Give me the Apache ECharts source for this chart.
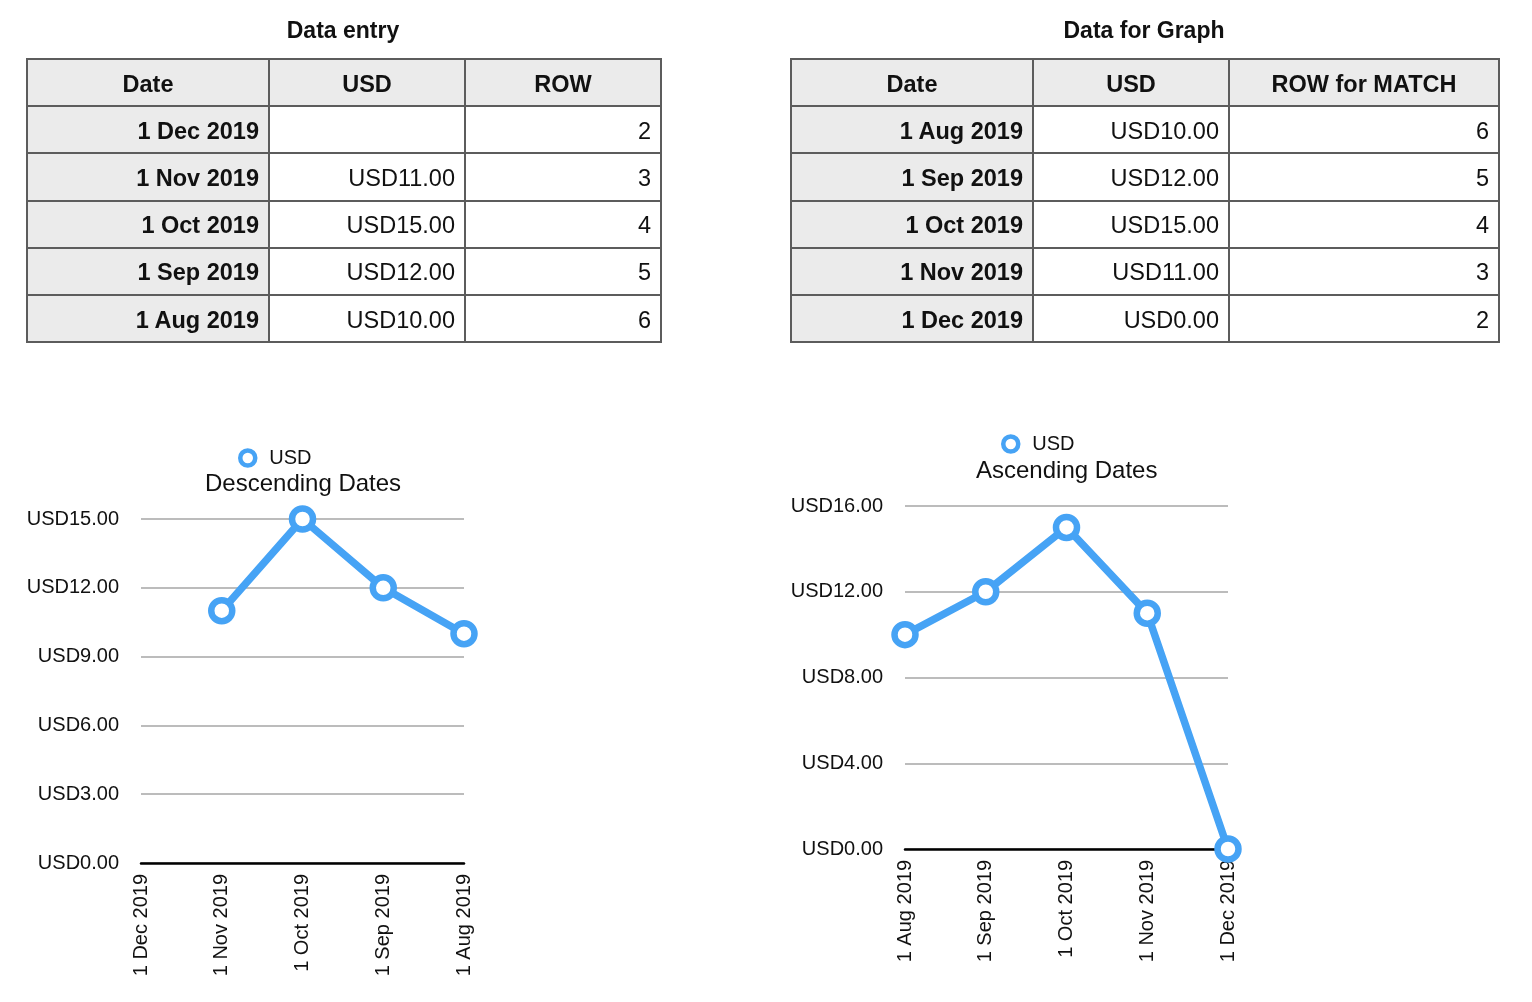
<!DOCTYPE html>
<html>
<head>
<meta charset="utf-8">
<script src="https://cdn.jsdelivr.net/npm/echarts@6/dist/echarts.min.js"></script>
<style>
  html, body { margin:0; padding:0; background:#fff; width:1532px; height:1002px; overflow:hidden; font-family:"Liberation Sans", Arial, sans-serif; }
  #chart { position:absolute; left:0; top:0; width:1532px; height:1002px; }
  .tbl-title { position:absolute; top:14px; height:32px; line-height:32px; text-align:center; font-weight:bold; font-size:23px; color:#111; }
  table { position:absolute; top:58px; border-collapse:collapse; table-layout:fixed; font-size:23.5px; color:#111; }
  td, th { border:2px solid #5c5c5c; height:47.2px; padding:3px 9px 0 9px; box-sizing:border-box; }
  th { background:#ebebeb; font-weight:bold; text-align:center; }
  td { text-align:right; background:#fff; }
  td.d { background:#ebebeb; font-weight:bold; }
</style>
</head>
<body>
<div id="chart"></div>
<div class="tbl-title" style="left:26px;width:634px;">Data entry</div>
<table id="t1" style="left:26px;width:634px;"></table>
<div class="tbl-title" style="left:790px;width:708px;">Data for Graph</div>
<table id="t2" style="left:790px;width:708px;"></table>
<script>
// ---- data ----
const entryHeaders = ['Date', 'USD', 'ROW'];
const entryDates = ['1 Dec 2019', '1 Nov 2019', '1 Oct 2019', '1 Sep 2019', '1 Aug 2019'];
const entryUsd = [null, 11, 15, 12, 10];
const entryRow = [2, 3, 4, 5, 6];

const graphHeaders = ['Date', 'USD', 'ROW for MATCH'];
const graphDates = ['1 Aug 2019', '1 Sep 2019', '1 Oct 2019', '1 Nov 2019', '1 Dec 2019'];
const graphUsd = [10, 12, 15, 11, 0];
const graphRow = [6, 5, 4, 3, 2];

const leftAxis = { min: 0, max: 15, interval: 3 };
const rightAxis = { min: 0, max: 16, interval: 4 };

// ---- tables ----
function fmt(v) { return v == null ? '' : 'USD' + v.toFixed(2); }
function buildTable(id, headers, dates, usd, rows, widths) {
  const t = document.getElementById(id);
  let html = '<colgroup>' + widths.map(w => '<col style="width:' + w + 'px">').join('') + '</colgroup>';
  html += '<tr>' + headers.map(h => '<th>' + h + '</th>').join('') + '</tr>';
  for (let i = 0; i < dates.length; i++) {
    html += '<tr><td class="d">' + dates[i] + '</td><td>' + fmt(usd[i]) + '</td><td>' + rows[i] + '</td></tr>';
  }
  t.innerHTML = html;
}
buildTable('t1', entryHeaders, entryDates, entryUsd, entryRow, [242, 196, 196]);
buildTable('t2', graphHeaders, graphDates, graphUsd, graphRow, [242, 196, 270]);

// ---- charts ----
const BLUE = '#46a3f5';
const FONT = '"Liberation Sans", Arial, sans-serif';
const chart = echarts.init(document.getElementById('chart'));

function xAxis(idx, cats) {
  return {
    type: 'category', gridIndex: idx, data: cats, boundaryGap: false,
    axisLine: { show: true, lineStyle: { color: '#000', width: 2.5 } },
    axisTick: { show: false },
    axisLabel: { rotate: 90, fontSize: 20, color: '#111', margin: 11, fontFamily: FONT, interval: 0 },
    splitLine: { show: false }
  };
}
function yAxis(idx, ax) {
  return {
    type: 'value', gridIndex: idx, min: ax.min, max: ax.max, interval: ax.interval,
    axisLine: { show: false }, axisTick: { show: false },
    axisLabel: { fontSize: 20, color: '#111', margin: 22, fontFamily: FONT, formatter: v => 'USD' + v.toFixed(2) },
    splitLine: { show: true, lineStyle: { color: '#bcbcbc', width: 2 } }
  };
}
function series(idx, vals) {
  return {
    name: 'USD', type: 'line', xAxisIndex: idx, yAxisIndex: idx, data: vals,
    symbol: 'circle', symbolSize: 21, clip: false, connectNulls: false,
    lineStyle: { color: BLUE, width: 7.5 },
    itemStyle: { color: '#fff', borderColor: BLUE, borderWidth: 6.5 },
    emphasis: { disabled: true }
  };
}
function legend(left, top) {
  return {
    data: ['USD'], left: left, top: top, padding: 0, icon: 'circle', itemWidth: 15, itemHeight: 15,
    itemStyle: { color: '#fff', borderColor: BLUE, borderWidth: 4.5 },
    textStyle: { fontSize: 20, color: '#111', fontFamily: FONT, padding: [0, 0, 0, 9] }
  };
}

chart.setOption({
  animation: false,
  textStyle: { fontFamily: FONT },
  title: [
    { text: 'Descending Dates', left: 205, top: 472, padding: 0, textStyle: { fontSize: 24, fontWeight: 'normal', color: '#111', fontFamily: FONT } },
    { text: 'Ascending Dates', left: 976, top: 459, padding: 0, textStyle: { fontSize: 24, fontWeight: 'normal', color: '#111', fontFamily: FONT } }
  ],
  legend: [legend(238, 448), legend(1001, 434)],
  grid: [
    { left: 141, right: 1532 - 464, top: 519, bottom: 1002 - 863, containLabel: false },
    { left: 905, right: 1532 - 1228, top: 506, bottom: 1002 - 849, containLabel: false }
  ],
  xAxis: [xAxis(0, entryDates), xAxis(1, graphDates)],
  yAxis: [yAxis(0, leftAxis), yAxis(1, rightAxis)],
  series: [series(0, entryUsd), series(1, graphUsd)]
});
</script>
</body>
</html>
